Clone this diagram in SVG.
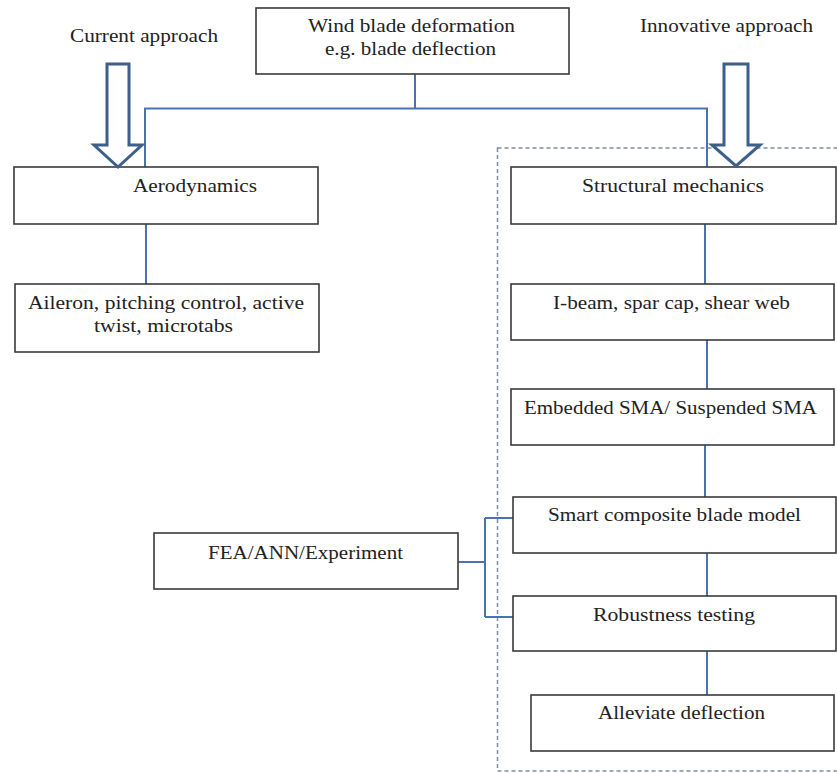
<svg xmlns="http://www.w3.org/2000/svg" width="837" height="773" viewBox="0 0 837 773">
<style>
.box{fill:#fff;stroke:#3a3a3a;stroke-width:1.6}
text{font-family:'Liberation Serif','Times New Roman','DejaVu Serif',serif;font-size:19.5px;fill:#222}
.c{fill:none;stroke:#4a72b0;stroke-width:2}
.arr{fill:#fff;stroke:#3d5f8a;stroke-width:3;stroke-linejoin:miter}
.dash{fill:none;stroke:#7f8ca3;stroke-width:1.5;stroke-dasharray:4 3}
</style>
<rect width="837" height="773" fill="#fff"/>
<g id="region">
<rect class="dash" x="497.5" y="148" width="345" height="623"/>
</g>
<g id="connectors">
<path class="c" d="M415 74 V109"/>
<path class="c" d="M145 168 V108.5 H707 V168"/>
<path class="c" d="M146 224 V284"/>
<path class="c" d="M705 224 V284"/>
<path class="c" d="M707 340 V389"/>
<path class="c" d="M705 445 V497"/>
<path class="c" d="M707 553 V596"/>
<path class="c" d="M707 651 V695"/>
<path class="c" d="M458 562 H485 M485 518 V617 M485 518 H513 M485 617 H513"/>
</g>
<g id="label-current">
<text x="70" y="42" textLength="148" lengthAdjust="spacingAndGlyphs">Current approach</text>
</g>
<g id="label-innovative">
<text x="640" y="32" textLength="173" lengthAdjust="spacingAndGlyphs">Innovative approach</text>
</g>
<g id="n-wind">
<rect class="box" x="256" y="8" width="313" height="66"/>
<text x="308" y="32" textLength="207" lengthAdjust="spacingAndGlyphs">Wind blade deformation</text>
<text x="325" y="55" textLength="171" lengthAdjust="spacingAndGlyphs">e.g. blade deflection</text>
</g>
<g id="n-aero">
<rect class="box" x="14" y="167" width="304" height="57"/>
<text x="133" y="192" textLength="124" lengthAdjust="spacingAndGlyphs">Aerodynamics</text>
</g>
<g id="n-aileron">
<rect class="box" x="15" y="284" width="304" height="68"/>
<text x="28" y="309" textLength="276" lengthAdjust="spacingAndGlyphs">Aileron, pitching control, active</text>
<text x="94" y="332" textLength="139" lengthAdjust="spacingAndGlyphs">twist, microtabs</text>
</g>
<g id="n-struct">
<rect class="box" x="511" y="167" width="325" height="57"/>
<text x="582" y="192" textLength="182" lengthAdjust="spacingAndGlyphs">Structural mechanics</text>
</g>
<g id="n-ibeam">
<rect class="box" x="511" y="284" width="323" height="56"/>
<text x="553" y="309" textLength="237" lengthAdjust="spacingAndGlyphs">I-beam, spar cap, shear web</text>
</g>
<g id="n-sma">
<rect class="box" x="511" y="389" width="323" height="56"/>
<text x="524" y="414" textLength="293" lengthAdjust="spacingAndGlyphs">Embedded SMA/ Suspended SMA</text>
</g>
<g id="n-smart">
<rect class="box" x="513" y="497" width="323" height="56"/>
<text x="548" y="521" textLength="253" lengthAdjust="spacingAndGlyphs">Smart composite blade model</text>
</g>
<g id="n-fea">
<rect class="box" x="154" y="533" width="304" height="56"/>
<text x="208" y="559" textLength="195" lengthAdjust="spacingAndGlyphs">FEA/ANN/Experiment</text>
</g>
<g id="n-robust">
<rect class="box" x="513" y="596" width="323" height="55"/>
<text x="593" y="621" textLength="162" lengthAdjust="spacingAndGlyphs">Robustness testing</text>
</g>
<g id="n-alleviate">
<rect class="box" x="531" y="695" width="303" height="56"/>
<text x="598" y="719" textLength="167" lengthAdjust="spacingAndGlyphs">Alleviate deflection</text>
</g>
<g id="arrow-current">
<polygon class="arr" points="107,64 129,64 129,145 142,145 118,167 94,145 107,145"/>
</g>
<g id="arrow-innovative">
<polygon class="arr" points="724,64 748,64 748,145 760,145 736,166 712,145 724,145"/>
</g>
</svg>
